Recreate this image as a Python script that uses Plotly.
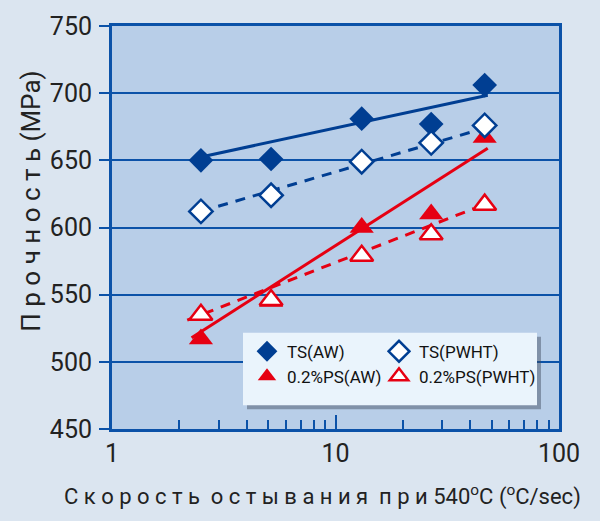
import plotly.graph_objects as go

# ---- data ----
cooling_rate = [2.5, 5.15, 13.1, 26.8, 46.5]
ts_aw = [650, 651, 681, 677, 706]
ts_pwht = [612, 624, 649, 663, 676]
ps_aw = [517, 545, 600, 610, 667]
ps_pwht = [535, 546, 579, 595, 617]

# regression lines (end points)
ts_aw_fit_x = [2.5, 48]
ts_aw_fit_y = [652.5, 698.5]
ts_pwht_fit_x = [2.5, 46.5]
ts_pwht_fit_y = [612, 674]
ps_aw_fit_x = [2.27, 48]
ps_aw_fit_y = [518, 659]
ps_pwht_fit_x = [2.17, 41.5]
ps_pwht_fit_y = [531, 614]

x_ticks = [1, 10, 100]
x_minor = [2, 3, 4, 5, 6, 7, 8, 9, 20, 30, 40, 50, 60, 70, 80, 90]
y_ticks = [450, 500, 550, 600, 650, 700, 750]

BLUE = "#003e92"
RED = "#e60012"
AXIS = "#0b52a8"
FONT = "Roboto, Liberation Sans Narrow, sans-serif"

fig = go.Figure()

# lines
fig.add_trace(go.Scatter(x=ts_aw_fit_x, y=ts_aw_fit_y, mode="lines",
                         line=dict(color=BLUE, width=3), showlegend=False, hoverinfo="skip"))
fig.add_trace(go.Scatter(x=ts_pwht_fit_x, y=ts_pwht_fit_y, mode="lines",
                         line=dict(color=BLUE, width=3, dash="10px,8px"), showlegend=False, hoverinfo="skip"))
fig.add_trace(go.Scatter(x=ps_aw_fit_x, y=ps_aw_fit_y, mode="lines",
                         line=dict(color=RED, width=3), showlegend=False, hoverinfo="skip"))
fig.add_trace(go.Scatter(x=ps_pwht_fit_x, y=ps_pwht_fit_y, mode="lines",
                         line=dict(color=RED, width=3, dash="10px,8px"), showlegend=False, hoverinfo="skip"))

# filled markers
fig.add_trace(go.Scatter(x=cooling_rate, y=ts_aw, mode="markers", name="TS(AW)",
                         marker=dict(symbol="diamond", size=19, color=BLUE, line=dict(width=0)),
                         legend="legend", legendrank=1))
fig.add_trace(go.Scatter(x=cooling_rate, y=ps_aw, mode="markers", name="0.2%PS(AW)",
                         marker=dict(symbol="triangle-up", size=21, color=RED, line=dict(width=0)),
                         legend="legend", legendrank=2))
# open markers
fig.add_trace(go.Scatter(x=cooling_rate, y=ts_pwht, mode="markers", name="TS(PWHT)",
                         marker=dict(symbol="diamond", size=18, color="white", line=dict(width=2.5, color=BLUE)),
                         legend="legend2", legendrank=1))
fig.add_trace(go.Scatter(x=cooling_rate, y=ps_pwht, mode="markers", name="0.2%PS(PWHT)",
                         marker=dict(symbol="triangle-up", size=20, color="white", line=dict(width=2.5, color=RED)),
                         legend="legend2", legendrank=2))

L, R, T, B = 112, 41, 23, 92
W, H = 600, 521
pw, ph = W - L - R, H - T - B

def px(x):
    return (x - L) / pw

def py(y):
    return (H - B - y) / ph

# legend box with shadow
fig.add_shape(type="rect", xref="paper", yref="paper",
              x0=px(247), x1=px(541), y0=py(409), y1=py(336),
              fillcolor="rgba(60,70,90,0.45)", line=dict(width=0), layer="above")
fig.add_shape(type="rect", xref="paper", yref="paper",
              x0=px(243), x1=px(537), y0=py(405), y1=py(332),
              fillcolor="#eaf4fc", line=dict(width=0), layer="above")

legend_common = dict(bgcolor="rgba(0,0,0,0)", borderwidth=0,
                     font=dict(family=FONT, size=17, color="#111"),
                     xanchor="left", yanchor="top", tracegroupgap=0, itemwidth=30)

fig.update_layout(
    width=W, height=H,
    margin=dict(l=L, r=R, t=T, b=B),
    paper_bgcolor="#dbe5f0",
    plot_bgcolor="#b8cee8",
    showlegend=True,
    legend=dict(x=px(247), y=py(333), **legend_common),
    legend2=dict(x=px(379), y=py(333), **legend_common),
    xaxis=dict(type="log", range=[0, 2], tickvals=x_ticks, ticktext=[str(v) for v in x_ticks],
               ticks="inside", ticklen=14, tickwidth=2, tickcolor=AXIS,
               minor=dict(tickvals=x_minor, ticks="inside", ticklen=9, tickwidth=2, tickcolor=AXIS, showgrid=False),
               showgrid=False, zeroline=False,
               showline=True, linecolor=AXIS, linewidth=3, mirror=True,
               tickfont=dict(family=FONT, size=25, color="#222"), ticklabelstandoff=0),
    yaxis=dict(range=[450, 750], tickvals=y_ticks,
               ticks="outside", ticklen=10, tickwidth=2, tickcolor=AXIS,
               showgrid=True, gridcolor=AXIS, gridwidth=2, zeroline=False,
               showline=True, linecolor=AXIS, linewidth=3, mirror=True,
               tickfont=dict(family=FONT, size=25, color="#222"), ticklabelstandoff=2),
    annotations=[
        dict(text="П р о ч н о с т ь (MPa)", xref="paper", yref="paper",
             x=px(31), y=py(200), xanchor="center", yanchor="middle", textangle=-90, showarrow=False,
             font=dict(family=FONT, size=26, color="#222")),
        dict(text="С к о р о с т ь  о с т ы в а н и я  п р и 540<sup>o</sup>C (<sup>o</sup>C/sec)",
             xref="paper", yref="paper", x=px(322), y=py(496), xanchor="center", yanchor="middle",
             showarrow=False, font=dict(family=FONT, size=22, color="#222")),
    ],
)

fig.write_html("out.html", post_script="document.body.style.margin='0';",
               config={"displayModeBar": False})
